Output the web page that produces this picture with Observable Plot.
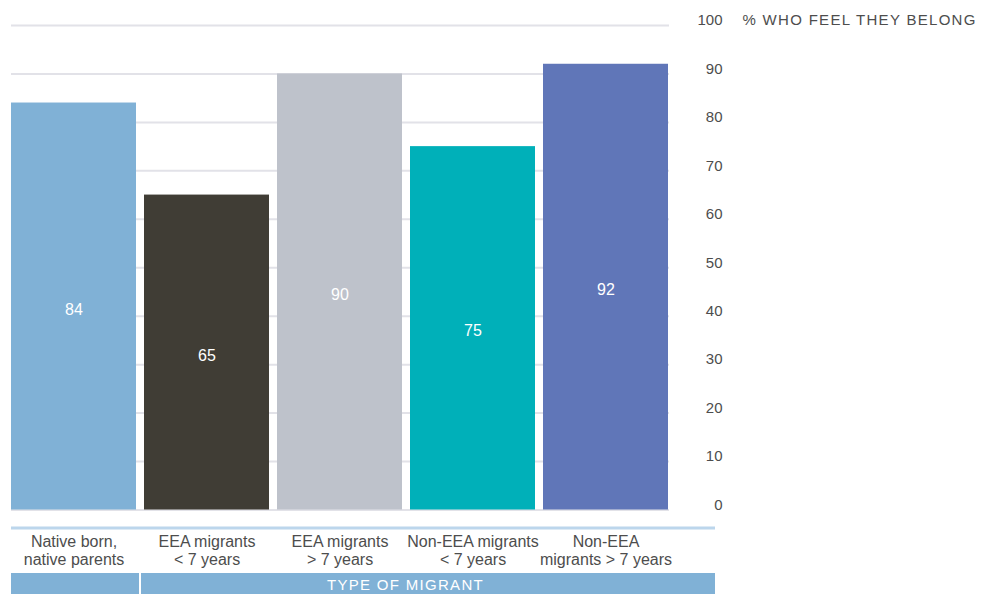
<!DOCTYPE html>
<html>
<head>
<meta charset="utf-8">
<script src="https://cdn.jsdelivr.net/npm/d3@7"></script>
<script src="https://cdn.jsdelivr.net/npm/@observablehq/plot@0.6"></script>
<style>
  html, body { margin: 0; padding: 0; background: #fff; }
  .spaced text { letter-spacing: 1.3px; }
</style>
</head>
<body>
<div id="chart"></div>
<script>
const categories = ["Native born, native parents", "EEA migrants < 7 years", "EEA migrants > 7 years", "Non-EEA migrants < 7 years", "Non-EEA migrants > 7 years"];
const categoryLabels = ["Native born,\nnative parents", "EEA migrants\n< 7 years", "EEA migrants\n> 7 years", "Non-EEA migrants\n< 7 years", "Non-EEA\nmigrants > 7 years"];
const values = [84, 65, 90, 75, 92];
const colors = ["#80b1d6", "#403d35", "#bec2cb", "#00b0b9", "#6076b8"];
const yTicks = [0, 10, 20, 30, 40, 50, 60, 70, 80, 90, 100];
const yTitle = "% WHO FEEL THEY BELONG";
const xTitle = "TYPE OF MIGRANT";

const data = categories.map((c, i) => ({category: c, value: values[i], label: categoryLabels[i]}));
const labelOf = new Map(categories.map((c, i) => [c, categoryLabels[i]]));

const font = "'Liberation Sans', Arial, Helvetica, sans-serif";
const textColor = "#4d4d4d";

const chart = Plot.plot({
  width: 987,
  height: 594,
  marginLeft: 11,
  marginRight: 318,
  marginTop: 25,
  marginBottom: 84.5,
  style: {fontFamily: font, fontSize: "15px", color: textColor, background: "#fff"},
  x: {domain: categories, paddingInner: 0.06, paddingOuter: 0},
  y: {domain: [0, 100]},
  color: {domain: categories, range: colors},
  marks: [
    Plot.gridY(yTicks, {stroke: "#e2e2e8", strokeOpacity: 1, strokeWidth: 2}),
    Plot.barY(data, {x: "category", y: "value", fill: "category"}),
    Plot.text(data, {x: "category", y: d => d.value / 2, text: d => String(d.value), fill: "white", fontSize: 16, dy: 3}),
    Plot.axisY(yTicks, {anchor: "right", tickSize: 0, textAnchor: "end", dx: 44, dy: -5, fontSize: 15, fill: textColor, label: null}),
    Plot.text([yTitle], {frameAnchor: "top-right", dx: 73, dy: -5.5, textAnchor: "start", lineAnchor: "middle", fontSize: 15, fill: textColor, className: "spaced"}),
    Plot.ruleY([0], {dy: 18, stroke: "#bcd6ec", strokeWidth: 3, insetRight: -46}),
    Plot.axisX({tickSize: 0, tickPadding: 24, tickFormat: d => labelOf.get(d), fontSize: 16, fill: textColor, label: null, lineHeight: 1.13}),
    Plot.ruleY([0], {dy: 74, stroke: "#80b1d6", strokeWidth: 22, insetRight: -46}),
    Plot.ruleX([categories[1]], {dx: -67, y1: -12.8, y2: -18, stroke: "white", strokeWidth: 2}),
    Plot.text([xTitle], {frameAnchor: "bottom", dx: 65, dy: 75, lineAnchor: "middle", fill: "white", fontSize: 15, className: "spaced"})
  ]
});
document.getElementById("chart").appendChild(chart);
</script>
</body>
</html>
